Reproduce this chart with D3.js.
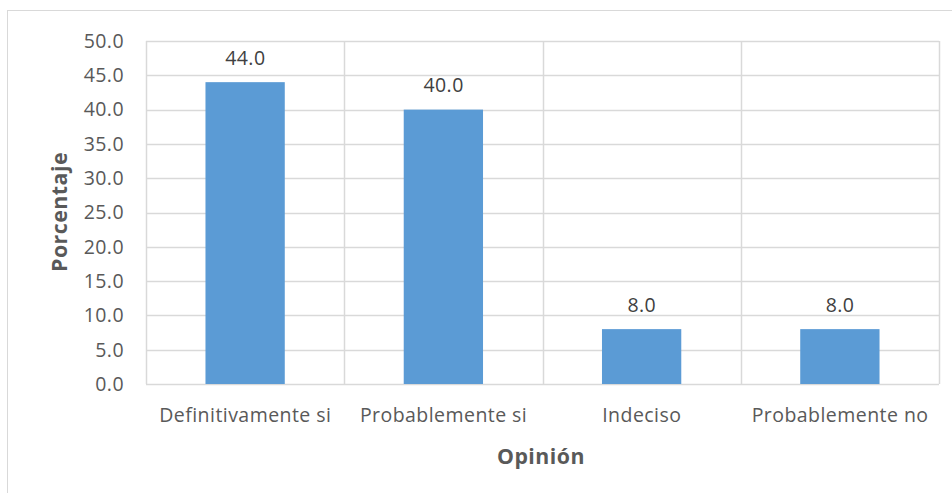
<!DOCTYPE html>
<html><head><meta charset="utf-8">
<script src="https://cdn.jsdelivr.net/npm/d3@7/dist/d3.min.js"></script>
<style>body{margin:0;background:#fff}svg{display:block}</style>
</head><body><svg id="c" width="952" height="493"></svg>
<script>
const categories = ["Definitivamente si", "Probablemente si", "Indeciso", "Probablemente no"];
const values = [44.0, 40.0, 8.0, 8.0];
const yTicks = [0, 5, 10, 15, 20, 25, 30, 35, 40, 45, 50];
const yTitle = "Porcentaje";
const xTitle = "Opinión";

const svg = d3.select("#c");
const font = "'Open Sans', 'Noto Sans', sans-serif";
const txt = "#595959";
svg.append("rect").attr("x",7.5).attr("y",10.5).attr("width",1000).attr("height",600)
  .attr("fill","none").attr("stroke","#d9d9d9");

const L=146, R=939, T=41, B=384;
const x = d3.scaleBand().domain(categories).range([L,R]).paddingInner(0).paddingOuter(0);
const y = d3.scaleLinear().domain([0,50]).range([B,T]);

const g = svg.append("g");
g.selectAll("line.h").data(yTicks).join("line")
  .attr("x1",L).attr("x2",R).attr("y1",d=>Math.round(y(d))+0.5).attr("y2",d=>Math.round(y(d))+0.5)
  .attr("stroke","#d9d9d9").attr("stroke-width",1.5);
const bounds = categories.map(c=>x(c)).concat([R]);
g.selectAll("line.v").data(bounds).join("line")
  .attr("y1",T).attr("y2",B).attr("x1",d=>Math.round(d)+0.5).attr("x2",d=>Math.round(d)+0.5)
  .attr("stroke","#d9d9d9").attr("stroke-width",1.5);

const bw = x.bandwidth()*0.4;
g.selectAll("rect.bar").data(values).join("rect")
  .attr("x",(d,i)=>x(categories[i])+x.bandwidth()/2-bw/2)
  .attr("width",bw)
  .attr("y",d=>y(d)).attr("height",d=>B-y(d))
  .attr("fill","#5b9bd5");

function style(sel, bold){
  return sel.attr("font-family",font)
    .attr("font-size",bold?21.3:19.5).attr("letter-spacing",bold?"0.5px":"0.45px")
    .attr("font-weight",bold?"bold":"normal");
}
style(g.selectAll("text.lab").data(values).join("text")
  .attr("x",(d,i)=>x(categories[i])+x.bandwidth()/2+0.2)
  .attr("y",d=>y(d)-17.3)
  .attr("text-anchor","middle").attr("fill","#404040")
  .text(d=>d.toFixed(1)));

style(g.selectAll("text.yt").data(yTicks).join("text")
  .attr("x",124).attr("y",d=>y(d)+6.8)
  .attr("text-anchor","end").attr("fill",txt)
  .text(d=>d.toFixed(1)));
style(g.selectAll("text.xt").data(categories).join("text")
  .attr("x",d=>x(d)+x.bandwidth()/2+0.2).attr("y",422.3)
  .attr("text-anchor","middle").attr("fill",txt)
  .text(d=>d));

style(svg.append("text").attr("transform","translate(67,"+212+") rotate(-90)")
  .attr("text-anchor","middle").attr("fill",txt), true)
  .text(yTitle);
style(svg.append("text").attr("x",541).attr("y",464)
  .attr("text-anchor","middle").attr("fill",txt), true)
  .text(xTitle);
</script></body></html>
